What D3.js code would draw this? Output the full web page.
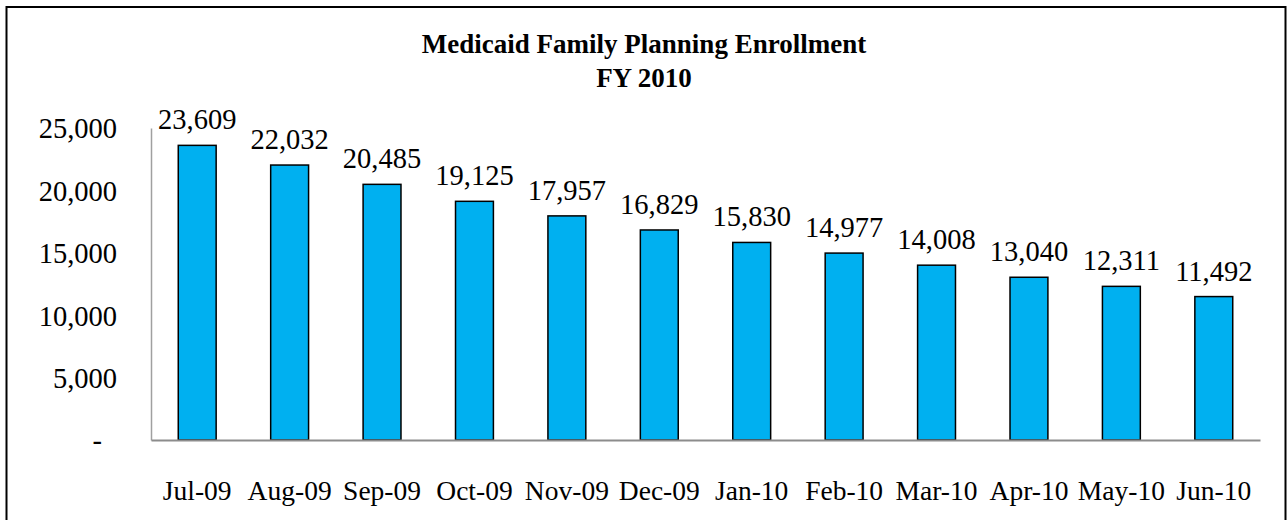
<!DOCTYPE html>
<html>
<head>
<meta charset="utf-8">
<script src="https://cdn.jsdelivr.net/npm/d3@7"></script>
<style>
  html, body { margin: 0; padding: 0; background: #fff; }
  svg { display: block; }
  text { font-family: "Liberation Serif", "Times New Roman", serif; fill: #000; }
</style>
</head>
<body>
<svg id="chart" width="1288" height="520"></svg>
<script>
const titleLines = ["Medicaid Family Planning Enrollment", "FY 2010"];
const months = ["Jul-09","Aug-09","Sep-09","Oct-09","Nov-09","Dec-09","Jan-10","Feb-10","Mar-10","Apr-10","May-10","Jun-10"];
const enrollment = [23609, 22032, 20485, 19125, 17957, 16829, 15830, 14977, 14008, 13040, 12311, 11492];
const yTicks = [0, 5000, 10000, 15000, 20000, 25000];

const svg = d3.select("#chart");
const plotLeft = 151, plotRight = 1260, plotTop = 128, plotBottom = 440;

// outer border
svg.append("rect")
  .attr("x", 6.5).attr("y", 7).attr("width", 1279).attr("height", 530)
  .attr("fill", "none").attr("stroke", "#000").attr("stroke-width", 2);

// title
svg.append("text").attr("x", 644).attr("y", 53).attr("text-anchor", "middle")
  .style("font-size", "27px").style("font-weight", "bold")
  .text(titleLines[0]);
svg.append("text").attr("x", 644).attr("y", 87).attr("text-anchor", "middle")
  .style("font-size", "27px").style("font-weight", "bold")
  .text(titleLines[1]);

const x = d3.scaleBand().domain(months).range([plotLeft, plotRight]).paddingInner(0.59).paddingOuter(0.295);
const y = d3.scaleLinear().domain([0, 25000]).range([plotBottom, plotTop]);

const fmt = d3.format(",");

// y axis
const yAxis = d3.axisLeft(y).tickValues(yTicks).tickSize(0).tickPadding(34)
  .tickFormat(d => d === 0 ? "-" : fmt(d));
const yg = svg.append("g").attr("transform", `translate(${plotLeft},0)`).call(yAxis);
yg.select(".domain").attr("stroke", "#a0a0a0").attr("stroke-width", 1.5);
yg.selectAll("text").style("font-size", "28.5px").style("font-family", '"Liberation Serif", serif')
  .attr("fill", "#000").attr("dy", "0.35em");
yg.selectAll(".tick").filter(d => d === 0).select("text").attr("dx", "-15px");

// bars
svg.append("g").selectAll("rect").data(enrollment).join("rect")
  .attr("x", (d, i) => x(months[i]))
  .attr("y", d => y(d))
  .attr("width", x.bandwidth())
  .attr("height", d => plotBottom - y(d))
  .attr("fill", "#00B0F0")
  .attr("stroke", "#000").attr("stroke-width", 1.5);

// x axis
const xAxis = d3.axisBottom(x).tickSize(0).tickPadding(40);
const xg = svg.append("g").attr("transform", `translate(0,${plotBottom})`).call(xAxis);
xg.select(".domain").attr("stroke", "#8c8c8c").attr("stroke-width", 2.2);
xg.selectAll("text").style("font-size", "27.5px").style("font-family", '"Liberation Serif", serif')
  .attr("fill", "#000");

// data labels
svg.append("g").selectAll("text").data(enrollment).join("text")
  .attr("x", (d, i) => x(months[i]) + x.bandwidth() / 2)
  .attr("y", d => y(d) - 16)
  .attr("text-anchor", "middle")
  .style("font-size", "28.5px")
  .text(d => fmt(d));
</script>
</body>
</html>
